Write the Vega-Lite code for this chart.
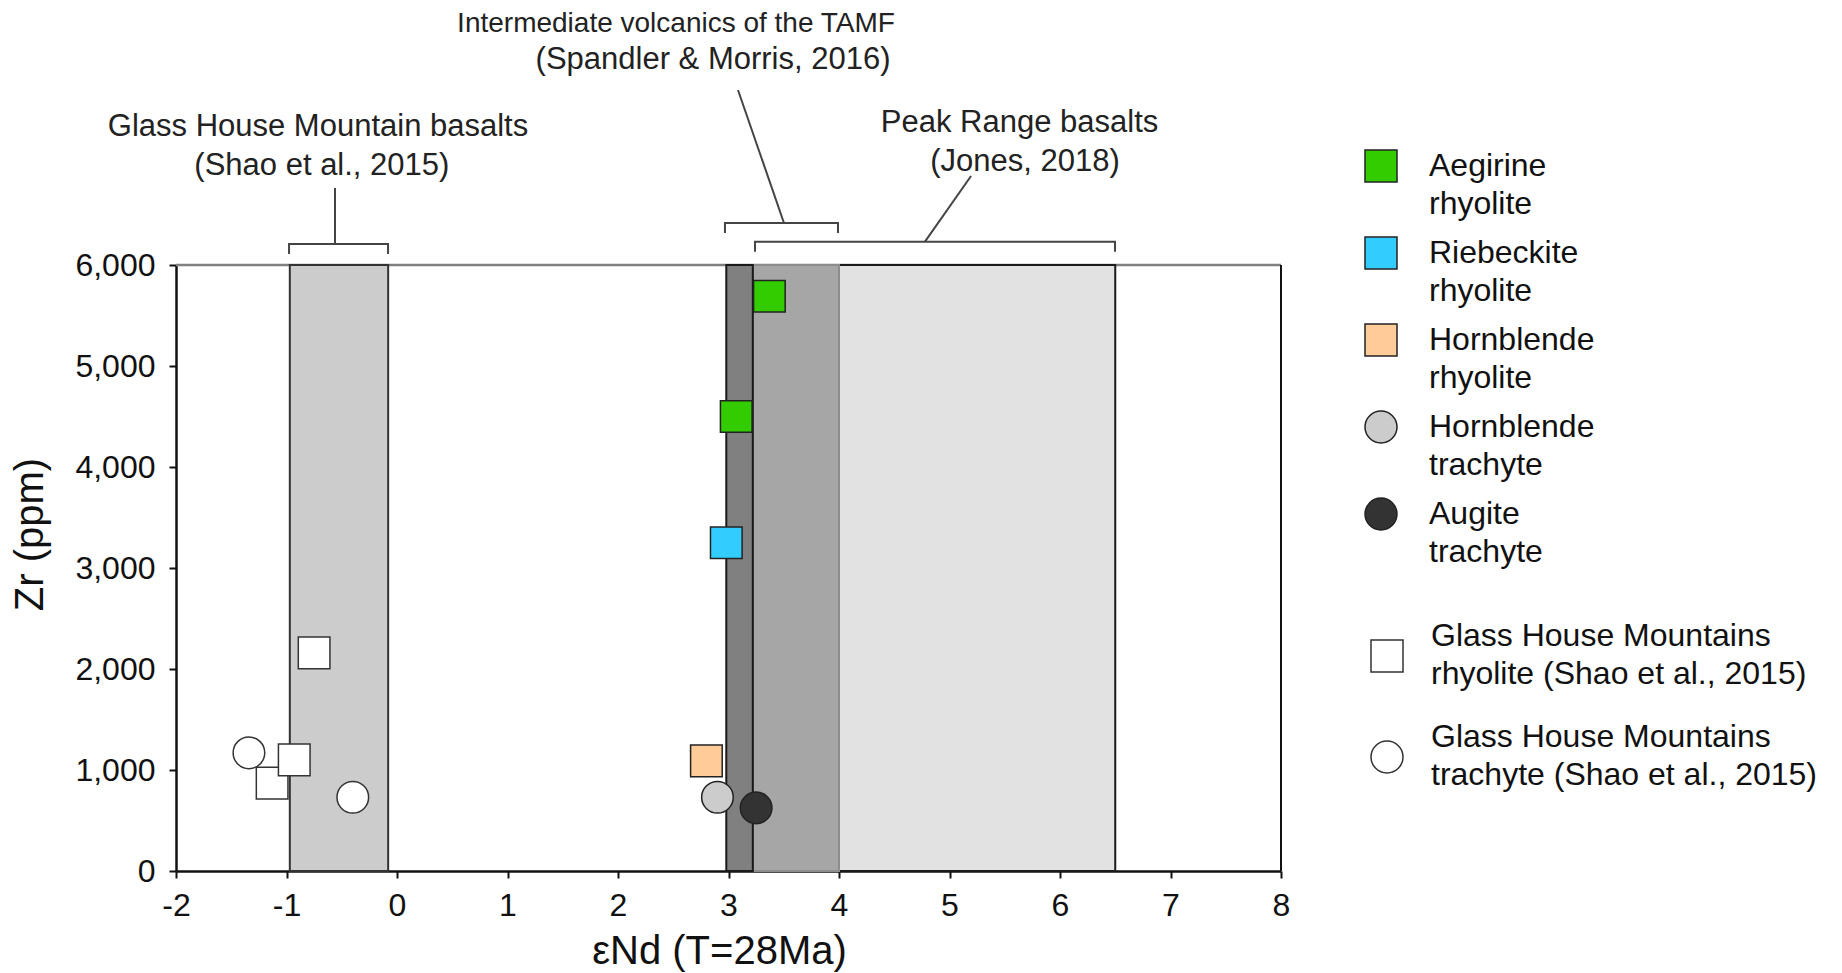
{
  "$schema": "https://vega.github.io/schema/vega-lite/v6.json",
  "width": 1105,
  "height": 606,
  "autosize": {"type": "none"},
  "padding": {"left": 176, "top": 265, "right": 561, "bottom": 102},
  "background": "white",
  "config": {
    "view": {"stroke": null},
    "font": "Liberation Sans",
    "style": {"guide-label": {"lineHeight": 38}}
  },
  "datasets": {
    "zones": [
      {"zone": "Glass House Mountain basalts", "x": -0.97, "xe": -0.08, "y": 0, "ye": 6000},
      {"zone": "Peak Range basalts only", "x": 4.0, "xe": 6.5, "y": 0, "ye": 6000},
      {"zone": "TAMF and Peak Range overlap", "x": 3.22, "xe": 4.0, "y": 0, "ye": 6000},
      {"zone": "TAMF only", "x": 2.98, "xe": 3.22, "y": 0, "ye": 6000}
    ],
    "frameTop": [{"x": -2, "xe": 8, "y": 6000}],
    "frameRight": [{"x": 8, "y": 0, "ye": 6000}],
    "brackets": [
      {"id": "ghm", "k": 1, "x": -0.977, "y": 6109},
      {"id": "ghm", "k": 2, "x": -0.977, "y": 6208},
      {"id": "ghm", "k": 3, "x": -0.081, "y": 6208},
      {"id": "ghm", "k": 4, "x": -0.081, "y": 6109},
      {"id": "tamf", "k": 1, "x": 2.968, "y": 6317},
      {"id": "tamf", "k": 2, "x": 2.968, "y": 6416},
      {"id": "tamf", "k": 3, "x": 3.991, "y": 6416},
      {"id": "tamf", "k": 4, "x": 3.991, "y": 6317},
      {"id": "peak", "k": 1, "x": 3.24, "y": 6132},
      {"id": "peak", "k": 2, "x": 3.24, "y": 6231},
      {"id": "peak", "k": 3, "x": 6.498, "y": 6231},
      {"id": "peak", "k": 4, "x": 6.498, "y": 6132},
      {"id": "ghm-leader", "k": 1, "x": -0.561, "y": 6762},
      {"id": "ghm-leader", "k": 2, "x": -0.561, "y": 6208},
      {"id": "tamf-leader", "k": 1, "x": 3.086, "y": 7733},
      {"id": "tamf-leader", "k": 2, "x": 3.502, "y": 6416},
      {"id": "peak-leader", "k": 1, "x": 5.195, "y": 6881},
      {"id": "peak-leader", "k": 2, "x": 4.778, "y": 6231}
    ],
    "labels": [
      {"text": "Glass House Mountain basalts", "x": -0.715, "y": 7366},
      {"text": "(Shao et al., 2015)", "x": -0.68, "y": 6980},
      {"text": "Intermediate volcanics of the TAMF", "x": 2.525, "y": 8386},
      {"text": "(Spandler & Morris, 2016)", "x": 2.86, "y": 8030},
      {"text": "Peak Range basalts", "x": 5.634, "y": 7403},
      {"text": "(Jones, 2018)", "x": 5.683, "y": 7020}
    ],
    "samples": [
      {"type": "Aegirine rhyolite", "x": 3.37, "y": 5690},
      {"type": "Aegirine rhyolite", "x": 3.07, "y": 4500},
      {"type": "Riebeckite rhyolite", "x": 2.98, "y": 3250},
      {"type": "Hornblende rhyolite", "x": 2.80, "y": 1090},
      {"type": "Hornblende trachyte", "x": 2.90, "y": 730},
      {"type": "Augite trachyte", "x": 3.25, "y": 625}
    ],
    "ghm": [
      {"type": "Glass House Mountains rhyolite (Shao et al., 2015)", "x": -1.13, "y": 870},
      {"type": "Glass House Mountains rhyolite (Shao et al., 2015)", "x": -0.93, "y": 1100},
      {"type": "Glass House Mountains rhyolite (Shao et al., 2015)", "x": -0.75, "y": 2160},
      {"type": "Glass House Mountains trachyte (Shao et al., 2015)", "x": -1.34, "y": 1170},
      {"type": "Glass House Mountains trachyte (Shao et al., 2015)", "x": -0.40, "y": 730}
    ]
  },
  "encoding": {
    "x": {
      "field": "x",
      "type": "quantitative",
      "title": "εNd (T=28Ma)",
      "scale": {"domain": [-2, 8], "nice": false, "zero": false},
      "axis": {
        "values": [-2, -1, 0, 1, 2, 3, 4, 5, 6, 7, 8],
        "labelExpr": "datum.value < 0 ? '-' + abs(datum.value) : '' + datum.value",
        "labelFont": "Liberation Sans",
        "labelFontSize": 32,
        "labelColor": "#111",
        "labelPadding": 12,
        "labelFlush": false,
        "labelOverlap": false,
        "tickSize": 7,
        "tickWidth": 2,
        "tickColor": "#111",
        "domainColor": "#111",
        "domainWidth": 2.5,
        "grid": false,
        "titleFont": "Liberation Sans",
        "titleFontSize": 40,
        "titleFontWeight": "normal",
        "titleColor": "#111",
        "titlePadding": 10,
        "titleX": 543
      }
    },
    "y": {
      "field": "y",
      "type": "quantitative",
      "title": "Zr (ppm)",
      "scale": {"domain": [0, 6000], "nice": false, "zero": false},
      "axis": {
        "values": [0, 1000, 2000, 3000, 4000, 5000, 6000],
        "labelExpr": "format(datum.value, ',.0f')",
        "labelFont": "Liberation Sans",
        "labelFontSize": 32,
        "labelColor": "#111",
        "labelPadding": 14,
        "labelFlush": false,
        "labelOverlap": false,
        "tickSize": 7,
        "tickWidth": 2,
        "tickColor": "#111",
        "domainColor": "#111",
        "domainWidth": 2.5,
        "grid": false,
        "titleFont": "Liberation Sans",
        "titleFontSize": 40,
        "titleFontWeight": "normal",
        "titleColor": "#111",
        "titlePadding": 24,
        "titleY": 269
      }
    }
  },
  "layer": [
    {
      "data": {"name": "frameTop"},
      "mark": {"type": "rule", "color": "#808080", "strokeWidth": 2.5},
      "encoding": {"x2": {"field": "xe"}}
    },
    {
      "data": {"name": "zones"},
      "mark": {"type": "rect", "strokeWidth": 2},
      "encoding": {
        "x2": {"field": "xe"},
        "y2": {"field": "ye"},
        "color": {
          "field": "zone",
          "type": "nominal",
          "scale": {
            "domain": ["Glass House Mountain basalts", "Peak Range basalts only", "TAMF and Peak Range overlap", "TAMF only"],
            "range": ["#cccccc", "#e2e2e2", "#a6a6a6", "#808080"]
          },
          "legend": null
        },
        "stroke": {
          "field": "zone",
          "type": "nominal",
          "scale": {
            "domain": ["Glass House Mountain basalts", "Peak Range basalts only", "TAMF and Peak Range overlap", "TAMF only"],
            "range": ["#333333", "#1a1a1a", "#8c8c8c", "#1a1a1a"]
          },
          "legend": null
        }
      }
    },
    {
      "data": {"name": "frameRight"},
      "mark": {"type": "rule", "color": "#111", "strokeWidth": 2},
      "encoding": {"y2": {"field": "ye"}}
    },
    {
      "data": {"name": "brackets"},
      "mark": {"type": "line", "color": "#444", "strokeWidth": 2, "clip": false},
      "encoding": {
        "detail": {"field": "id", "type": "nominal"},
        "order": {"field": "k", "type": "quantitative"}
      }
    },
    {
      "data": {"name": "labels"},
      "transform": [{"filter": "datum.text !== 'Intermediate volcanics of the TAMF'"}],
      "mark": {"type": "text", "font": "Liberation Sans", "fontSize": 31, "color": "#222", "align": "center", "baseline": "middle"},
      "encoding": {"text": {"field": "text", "type": "nominal"}}
    },
    {
      "data": {"name": "labels"},
      "transform": [{"filter": "datum.text === 'Intermediate volcanics of the TAMF'"}],
      "mark": {"type": "text", "font": "Liberation Sans", "fontSize": 28, "color": "#222", "align": "center", "baseline": "middle"},
      "encoding": {"text": {"field": "text", "type": "nominal"}}
    },
    {
      "data": {"name": "samples"},
      "mark": {"type": "point", "filled": true, "size": 1000, "opacity": 1, "stroke": "#222", "strokeWidth": 1.5},
      "encoding": {
        "fill": {
          "field": "type",
          "type": "nominal",
          "scale": {
            "domain": ["Aegirine rhyolite", "Riebeckite rhyolite", "Hornblende rhyolite", "Hornblende trachyte", "Augite trachyte"],
            "range": ["#33cc00", "#33ccff", "#ffcc99", "#cccccc", "#333333"]
          },
          "legend": {
            "title": null, "orient": "none", "legendX": 1188, "legendY": -116, "padding": 0,
            "symbolSize": 1024, "symbolStrokeWidth": 1.5, "symbolOpacity": 1,
            "labelFont": "Liberation Sans", "labelFontSize": 32, "labelColor": "#111", "labelOffset": 31,
            "labelLimit": 600, "rowPadding": 14, "labelBaseline": "middle",
            "labelExpr": "split(datum.label, ' ')"
          }
        },
        "shape": {
          "field": "type",
          "type": "nominal",
          "scale": {
            "domain": ["Aegirine rhyolite", "Riebeckite rhyolite", "Hornblende rhyolite", "Hornblende trachyte", "Augite trachyte"],
            "range": ["square", "square", "square", "circle", "circle"]
          },
          "legend": {
            "title": null, "orient": "none", "legendX": 1188, "legendY": -116, "padding": 0,
            "symbolSize": 1024, "symbolStrokeWidth": 1.5, "symbolOpacity": 1,
            "labelFont": "Liberation Sans", "labelFontSize": 32, "labelColor": "#111", "labelOffset": 31,
            "labelLimit": 600, "rowPadding": 14, "labelBaseline": "middle",
            "labelExpr": "split(datum.label, ' ')"
          }
        }
      }
    },
    {
      "data": {"name": "ghm"},
      "mark": {"type": "point", "filled": true, "fill": "white", "size": 1000, "opacity": 1, "stroke": "#333", "strokeWidth": 1.5},
      "encoding": {
        "shape": {
          "field": "type",
          "type": "nominal",
          "scale": {
            "domain": ["Glass House Mountains rhyolite (Shao et al., 2015)", "Glass House Mountains trachyte (Shao et al., 2015)"],
            "range": ["square", "circle"]
          },
          "legend": {
            "title": null, "orient": "none", "legendX": 1194, "legendY": 374, "padding": 0,
            "symbolSize": 1024, "symbolStrokeWidth": 1.5, "symbolOpacity": 1,
            "labelFont": "Liberation Sans", "labelFontSize": 32, "labelColor": "#111", "labelOffset": 27,
            "labelLimit": 700, "rowPadding": 31, "labelBaseline": "line-bottom",
            "labelExpr": "[slice(datum.label, 0, 21), slice(datum.label, 22)]"
          }
        }
      }
    }
  ],
  "resolve": {"scale": {"fill": "independent", "shape": "independent"}}
}
